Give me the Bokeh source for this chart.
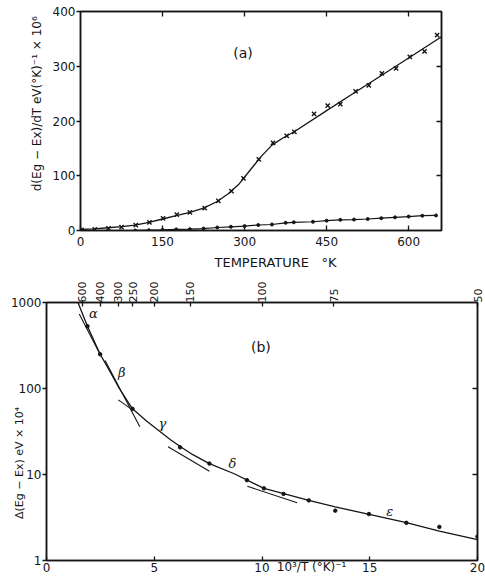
import math
from bokeh.plotting import figure
from bokeh.models import (Range1d, LinearAxis, LogAxis, FixedTicker, Label,
                          CustomJSTickFormatter, ColumnDataSource)
from bokeh.embed import file_html
from bokeh.resources import INLINE
from bokeh.core.properties import value

# ---------------- Panel (a) data ----------------
a_cross_t = [2, 26, 51, 75, 101, 126, 151, 176, 200, 227, 252, 276, 298, 326,
             352, 377, 391, 427, 452, 475, 503, 527, 551, 577, 602, 629, 652]
a_cross_v = [1, 2, 4, 6, 10, 15, 22, 29, 33, 41, 54, 72, 95, 130,
             160, 173, 180, 213, 228, 231, 254, 265, 287, 296, 317, 327, 357]
a_curve_t = [0, 25, 50, 75, 100, 125, 150, 175, 200, 225, 250, 270, 290, 310,
             330, 350, 370, 390, 450, 500, 550, 600, 660]
a_curve_v = [2, 3, 5, 7, 10, 15, 21, 27, 33, 41, 53, 67, 85, 110,
             135, 156, 169, 180, 219, 251, 283, 315, 354]
a_dot_t = [0, 25, 50, 75, 100, 125, 150, 175, 200, 225, 250, 275, 300, 325,
           350, 375, 390, 425, 450, 475, 500, 525, 550, 575, 600, 625, 650]
a_dot_v = [1, -1, -3, -2, 0, 0.6, 1.2, 2, 2.4, 3.6, 5.5, 6.8, 8, 10,
           11, 14, 15, 16, 18, 19.5, 20, 21, 22.5, 24, 25.5, 27, 27.5]
a_xticks = [0, 150, 300, 450, 600]
a_yticks = [0, 100, 200, 300, 400]

# ---------------- Panel (b) data ----------------
b_curve_x = [1.46, 1.9, 2.49, 2.95, 3.38, 3.99, 4.64, 5.1, 5.74, 6.22, 6.79,
             7.56, 8.71, 10.09, 11.01, 12.17, 13.4, 15.08, 16.7, 18.23, 20.0]
b_curve_y = [1000, 530, 250, 157, 100, 58, 42, 34, 25.5, 21, 17,
             13.4, 10.2, 6.9, 6.0, 5.0, 4.2, 3.4, 2.75, 2.2, 1.75]
b_dot_x = [1.9, 2.49, 3.99, 6.2, 7.56, 9.3, 10.09, 11.0, 12.17, 13.4, 14.96,
           16.7, 18.23, 20.0]
b_dot_y = [530, 250, 58, 20.7, 13.4, 8.6, 6.9, 5.95, 5.0, 3.8, 3.47,
           2.74, 2.46, 1.9]
# tangent segments (x0, y0, x1, y1)
b_seg_x0 = [1.52, 2.72, 3.33, 5.64, 9.32]
b_seg_y0 = [733, 211, 73.8, 21.0, 7.3]
b_seg_x1 = [2.49, 4.33, 4.01, 7.56, 11.63]
b_seg_y1 = [248, 35.8, 56, 10.9, 4.69]
b_greek = ["α", "β", "γ", "δ", "ε"]
b_greek_x = [2.18, 3.49, 5.38, 8.63, 15.93]
b_greek_y = [742, 153, 39, 13.5, 3.76]
b_xticks = [0, 5, 10, 15, 20]
b_yticks = [1, 10, 100, 1000]
b_top_T = [600, 400, 300, 250, 200, 150, 100, 75, 50]

FONT = "DejaVu Sans"
INK = "#151515"
NB = "\u00a0"


def style_axis(ax, tin, tout, size="12px", standoff=2):
    ax.axis_line_color = INK
    ax.axis_line_width = 1.5
    ax.major_tick_line_color = INK
    ax.major_tick_line_width = 1.3
    ax.major_tick_in = tin
    ax.major_tick_out = tout
    ax.minor_tick_line_color = None
    ax.major_label_text_font = FONT
    ax.major_label_text_font_size = size
    ax.major_label_text_color = INK
    ax.major_label_standoff = standoff


def style_label(ax, text, standoff, size="12px"):
    ax.axis_label = text
    ax.axis_label_text_font = FONT
    ax.axis_label_text_font_style = "normal"
    ax.axis_label_text_font_size = size
    ax.axis_label_text_color = INK
    ax.axis_label_standoff = standoff


blank = CustomJSTickFormatter(code="return '';")

# ---------------- Figure (a) ----------------
pa = figure(width=485, height=278, x_range=Range1d(0, 660), y_range=Range1d(0, 400),
            output_backend="svg", toolbar_location=None,
            min_border_left=80, min_border_right=44, min_border_top=11, min_border_bottom=48)
pa.grid.visible = False
pa.outline_line_color = INK
pa.outline_line_width = 1.5

pa.xaxis.ticker = FixedTicker(ticks=a_xticks)
pa.yaxis.ticker = FixedTicker(ticks=a_yticks)
style_axis(pa.xaxis[0], 5, 0, standoff=6)
style_axis(pa.yaxis[0], 0, 4, standoff=1)
style_label(pa.xaxis[0], NB * 7 + "TEMPERATURE" + NB * 3 + "°K", 6, size="13px")
style_label(pa.yaxis[0], NB * 10 + "d(Eg − Ex)/dT  eV(°K)⁻¹ × 10⁶", 6)

top_a = LinearAxis(ticker=FixedTicker(ticks=a_xticks[1:]), formatter=blank)
style_axis(top_a, 5, 0, size="1px", standoff=0)
pa.add_layout(top_a, "above")
right_a = LinearAxis(ticker=FixedTicker(ticks=a_yticks[1:-1]), formatter=blank)
style_axis(right_a, 5, 0, size="1px", standoff=0)
pa.add_layout(right_a, "right")

pa.line(a_curve_t, a_curve_v, line_color=INK, line_width=1.3)
pa.scatter(a_cross_t, a_cross_v, marker="x", size=6, line_color=INK, line_width=1.4)
pa.line(a_dot_t, a_dot_v, line_color=INK, line_width=1.2)
pa.scatter(a_dot_t, a_dot_v, marker="circle", size=3, fill_color=INK, line_color=INK)

pa.add_layout(Label(x=297, y=325, text="(a)", text_font=FONT, text_font_size="14px",
                    text_color=INK, text_align="center", text_baseline="middle"))

# ---------------- Figure (b) ----------------
pb = figure(width=485, height=300, x_range=Range1d(0, 20), y_range=Range1d(1, 1000),
            y_axis_type="log", output_backend="svg", toolbar_location=None,
            min_border_left=46, min_border_right=8, min_border_top=21, min_border_bottom=18)
pb.grid.visible = False
pb.outline_line_color = INK
pb.outline_line_width = 1.5

pb.xaxis.ticker = FixedTicker(ticks=b_xticks)
pb.yaxis.ticker = FixedTicker(ticks=b_yticks)
pb.yaxis.formatter = CustomJSTickFormatter(code="return String(Math.round(tick));")
style_axis(pb.xaxis[0], 4, 0, standoff=2)
style_axis(pb.yaxis[0], 0, 4, standoff=1)
style_label(pb.yaxis[0], "Δ(Eg − Ex) eV × 10⁴" + NB * 18, -18, size="11px")
style_label(pb.xaxis[0], NB * 26 + "10³/T (°K)⁻¹", -15)

top_b = LinearAxis(ticker=FixedTicker(ticks=[1000.0 / t for t in b_top_T]),
                   formatter=CustomJSTickFormatter(code="return String(Math.round(1000/tick));"))
style_axis(top_b, 4, 0, size="11px", standoff=0)
top_b.major_label_orientation = math.pi / 2
pb.add_layout(top_b, "above")
right_b = LogAxis(ticker=FixedTicker(ticks=[10, 100]), formatter=blank)
style_axis(right_b, 5, 0, size="1px", standoff=0)
pb.add_layout(right_b, "right")

pb.line(b_curve_x, b_curve_y, line_color=INK, line_width=1.3)
pb.segment(x0=b_seg_x0, y0=b_seg_y0, x1=b_seg_x1, y1=b_seg_y1, line_color=INK, line_width=1.1)
pb.scatter(b_dot_x, b_dot_y, marker="circle", size=3.5, fill_color=INK, line_color=INK)
gsrc = ColumnDataSource(dict(x=b_greek_x, y=b_greek_y, t=b_greek))
pb.text(x="x", y="y", text="t", source=gsrc, text_font=value("DejaVu Serif"),
        text_font_style="italic", text_font_size="13px", text_color=INK,
        text_align="center", text_baseline="middle")

pb.add_layout(Label(x=9.95, y=306, text="(b)", text_font=FONT, text_font_size="14px",
                    text_color=INK, text_align="center", text_baseline="middle"))

open("out.html", "w").write(file_html([pa, pb], INLINE))
